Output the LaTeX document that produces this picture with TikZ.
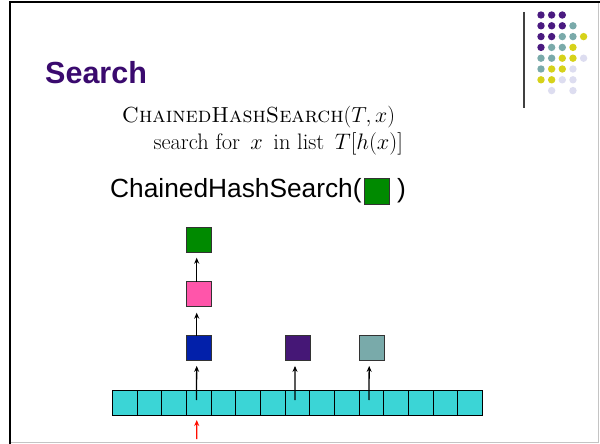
\documentclass[tikz,border=0pt]{standalone}
\usepackage{fix-cm}
\usepackage{fontspec}
\newfontfamily\arialfont{Liberation Sans}
\usetikzlibrary{arrows.meta}

\definecolor{titlepurple}{HTML}{3A0A6E}
\definecolor{dotpurple}{HTML}{4A1A80}
\definecolor{dotteal}{HTML}{7AAAAA}
\definecolor{dotyellow}{HTML}{D6D21A}
\definecolor{dotlav}{HTML}{DDDDF0}
\definecolor{cellcyan}{HTML}{3BD5D6}
\definecolor{boxblue}{HTML}{0220AA}
\definecolor{boxpink}{HTML}{FF55AA}
\definecolor{boxgreen}{HTML}{008A00}
\definecolor{boxpurple}{HTML}{451776}
\definecolor{boxteal}{HTML}{79AAAA}
\definecolor{framegray}{HTML}{C4C4C4}

\tikzset{
  cell/.style={draw=black, line width=1pt, fill=cellcyan, minimum width=24.64pt,
    minimum height=25pt, inner sep=0pt, outer sep=0pt},
  item/.style={draw=black!80, line width=1pt, minimum width=25pt, minimum height=25pt,
    inner sep=0pt, outer sep=0pt},
  link/.style={line width=1.3pt, -{Stealth[length=6pt,width=5pt]}},
  dot/.style={circle, inner sep=0pt, minimum size=7.4pt},
}

\begin{document}
\begin{tikzpicture}[x=1pt,y=-1pt]
\useasboundingbox (0,0) rectangle (600,444);
\fill[white] (0,0) rectangle (600,444);

% slide frame
\draw[framegray, line width=1.5pt] (11,442.5) -- (598.6,442.5) -- (598.6,3);
\draw[black, line width=2pt] (9,2) -- (600,2);
\draw[black, line width=2.5pt] (10,1) -- (10,444);

% logo: vertical rule and dot grid (row/column/colour)
\draw[black!75, line width=1.5pt] (524,12) -- (524,108);
\foreach \r/\c/\col in {
    0/0/dotpurple, 0/1/dotpurple, 0/2/dotpurple,
    1/0/dotpurple, 1/1/dotpurple, 1/2/dotpurple, 1/3/dotteal,
    2/0/dotpurple, 2/1/dotpurple, 2/2/dotteal, 2/3/dotteal, 2/4/dotyellow,
    3/0/dotpurple, 3/1/dotteal, 3/2/dotteal, 3/3/dotyellow,
    4/0/dotteal, 4/1/dotteal, 4/2/dotyellow, 4/3/dotyellow, 4/4/dotlav,
    5/0/dotteal, 5/1/dotyellow, 5/2/dotyellow, 5/3/dotlav,
    6/0/dotyellow, 6/1/dotyellow, 6/2/dotlav, 6/3/dotlav,
    7/1/dotlav, 7/3/dotlav}
  \node[dot, fill=\col] (d\r\c) at ({541+10.65*\c},{15+10.8*\r}) {};

% heading and pseudocode
\node[anchor=base west, inner sep=0pt, text=titlepurple] (title) at (45,83.3)
  {\arialfont\fontsize{30.5}{34}\selectfont\bfseries Search};
\node[anchor=base west, inner sep=0pt] (sig) at (121.7,122.7)
  {\fontsize{21.8}{26}\selectfont\textsc{ChainedHashSearch}$(T,x)$};
\node[anchor=base west, inner sep=0pt] (body) at (153.3,149)
  {\fontsize{22.4}{26}\selectfont search for \,$x$\, in list \,$T[h(x)]$};

% call line with the key being searched
\node[anchor=base west, inner sep=0pt] (call) at (110,197.3)
  {\arialfont\fontsize{26.3}{30}\selectfont ChainedHashSearch(};
\node[item, fill=boxgreen, minimum height=26pt] (key) at (376.7,191.3) {};
\node[anchor=base west, inner sep=0pt] (close) at (397,197.3)
  {\arialfont\fontsize{26.3}{30}\selectfont )};

% hash table slots
\foreach \i in {1,...,15}
  \node[cell] (c\i) at ({112.7+24.64*(\i-0.5)},402.5) {};

% chained list elements
\node[item, fill=boxblue]   (e1) at (199.2,348.4) {};
\node[item, fill=boxpink]   (e2) at (199.2,294.2) {};
\node[item, fill=boxgreen]  (e3) at (199.2,239.8) {};
\node[item, fill=boxpurple] (f1) at (297.5,348.4) {};
\node[item, fill=boxteal]   (g1) at (371.7,348.4) {};

% pointers
\draw[link] ([xshift=-2.5pt,yshift=2.5pt]c4.center) -- ([xshift=-2.5pt,yshift=-5pt]e1.south);
\draw[link] ([xshift=-2.5pt]e1.north) -- ([xshift=-2.5pt,yshift=-6pt]e2.south);
\draw[link] ([xshift=-2.5pt]e2.north) -- ([xshift=-2.5pt,yshift=-5.4pt]e3.south);
\draw[link] ([xshift=-2.5pt,yshift=2.5pt]c8.center) -- ([xshift=-2.5pt,yshift=-5pt]f1.south);
\draw[link] ([xshift=-2.5pt,yshift=2.5pt]c11.center) -- ([xshift=-2.5pt,yshift=-5pt]g1.south);

% probe position in the table
\coordinate (probe) at (196.7,439);
\draw[link, red!90!orange] (probe) -- ([xshift=-2.2pt,yshift=-5pt]c4.south);
\end{tikzpicture}
\end{document}
